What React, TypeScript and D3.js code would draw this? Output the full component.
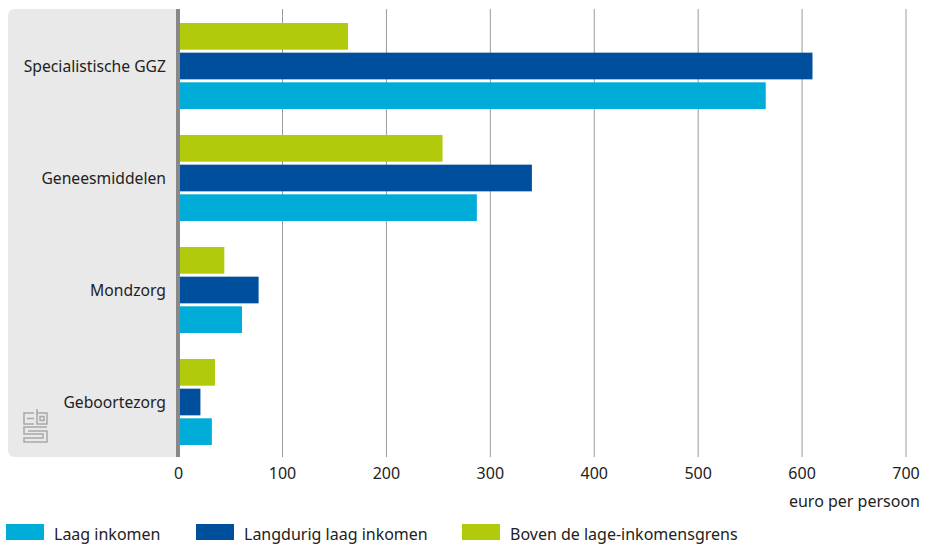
import React from "react";
import * as d3 from "d3";

const categories = ["Specialistische GGZ", "Geneesmiddelen", "Mondzorg", "Geboortezorg"];
const seriesNames = ["Laag inkomen", "Langdurig laag inkomen", "Boven de lage-inkomensgrens"];
const laagInkomen = [565, 287, 61, 32];
const langdurigLaagInkomen = [610, 340, 77, 21];
const bovenGrens = [163, 254, 44, 35];
const xTicks = [0, 100, 200, 300, 400, 500, 600, 700];
const axisTitle = "euro per persoon";
const colors = ["#00acd8", "#004f9d", "#b1ca0b"];

const W = 930;
const H = 545;
const FONT = "'Noto Sans', sans-serif";

export default function App() {
  const x = d3.scaleLinear().domain([0, 700]).range([178.6, 906]);
  const y = d3.scaleBand<string>().domain(categories).range([9, 457]).padding(0);
  const order = [2, 1, 0];
  const values = [laagInkomen, langdurigLaagInkomen, bovenGrens];
  const sub = d3.scaleBand<number>().domain(order).range([14, 100]).paddingInner(0.1);

  const top = 9;
  const bottom = 457;
  const panelLeft = 8;
  const panelRight = 179;
  const r = 7;
  const panelPath = `M${panelRight},${top} L${panelLeft + r},${top} Q${panelLeft},${top} ${panelLeft},${top + r} L${panelLeft},${bottom - r} Q${panelLeft},${bottom} ${panelLeft + r},${bottom} L${panelRight},${bottom} Z`;

  const lx = 23;
  const ly = 409;

  return (
    <div style={{ position: "fixed", left: 0, top: 0, width: W, height: H, overflow: "hidden" }}>
      <svg width={W} height={H} style={{ display: "block" }}>
        <rect x={0} y={0} width={W} height={H} fill="#fff" />
        <path d={panelPath} fill="#e9e9e9" />
        {xTicks.slice(1).map((t) => (
          <line key={t} x1={x(t)} x2={x(t)} y1={top} y2={bottom} stroke="#9a9a9a" strokeWidth={1} />
        ))}
        {categories.map((c, ci) => (
          <g key={c}>
            {order.map((si) => (
              <rect
                key={si}
                x={x(0)}
                y={(y(c) ?? 0) + (sub(si) ?? 0)}
                width={x(values[si][ci]) - x(0)}
                height={sub.bandwidth()}
                fill={colors[si]}
              />
            ))}
            <text
              x={166}
              y={(y(c) ?? 0) + (sub(1) ?? 0) + sub.bandwidth() / 2}
              textAnchor="end"
              dominantBaseline="central"
              fontFamily={FONT}
              fontSize={15.7}
              fill="#222"
            >
              {c}
            </text>
          </g>
        ))}
        <line x1={178} x2={178} y1={top} y2={bottom} stroke="#888" strokeWidth={4} />
        {xTicks.map((t) => (
          <text key={t} x={x(t)} y={479} textAnchor="middle" fontFamily={FONT} fontSize={16} fill="#222">
            {t}
          </text>
        ))}
        <text x={920} y={507} textAnchor="end" fontFamily={FONT} fontSize={16} fill="#222">
          {axisTitle}
        </text>
        <g fill="none" stroke="#a8a8a8" strokeWidth={1.5}>
          <path d={`M${lx + 11},${ly + 4} H${lx + 1} V${ly + 15} H${lx + 11} M${lx + 4},${ly + 9.5} H${lx + 11}`} />
          <path d={`M${lx + 14},${ly} V${ly + 15} H${lx + 24} V${ly + 4} H${lx + 14}`} />
          <rect x={lx + 17} y={ly + 7.5} width={4} height={4} />
          <path d={`M${lx + 24},${ly + 18} H${lx + 1} V${ly + 25} H${lx + 20} V${ly + 29} H${lx + 1} V${ly + 33} H${lx + 24} V${ly + 22} H${lx + 5}`} />
        </g>
        {[0, 1, 2].map((si) => {
          const rx = [6, 196, 462][si];
          return (
            <g key={si}>
              <rect x={rx} y={524} width={38} height={16} fill={colors[si]} />
              <text x={rx + 48} y={540} fontFamily={FONT} fontSize={16} fill="#222">
                {seriesNames[si]}
              </text>
            </g>
          );
        })}
      </svg>
    </div>
  );
}
